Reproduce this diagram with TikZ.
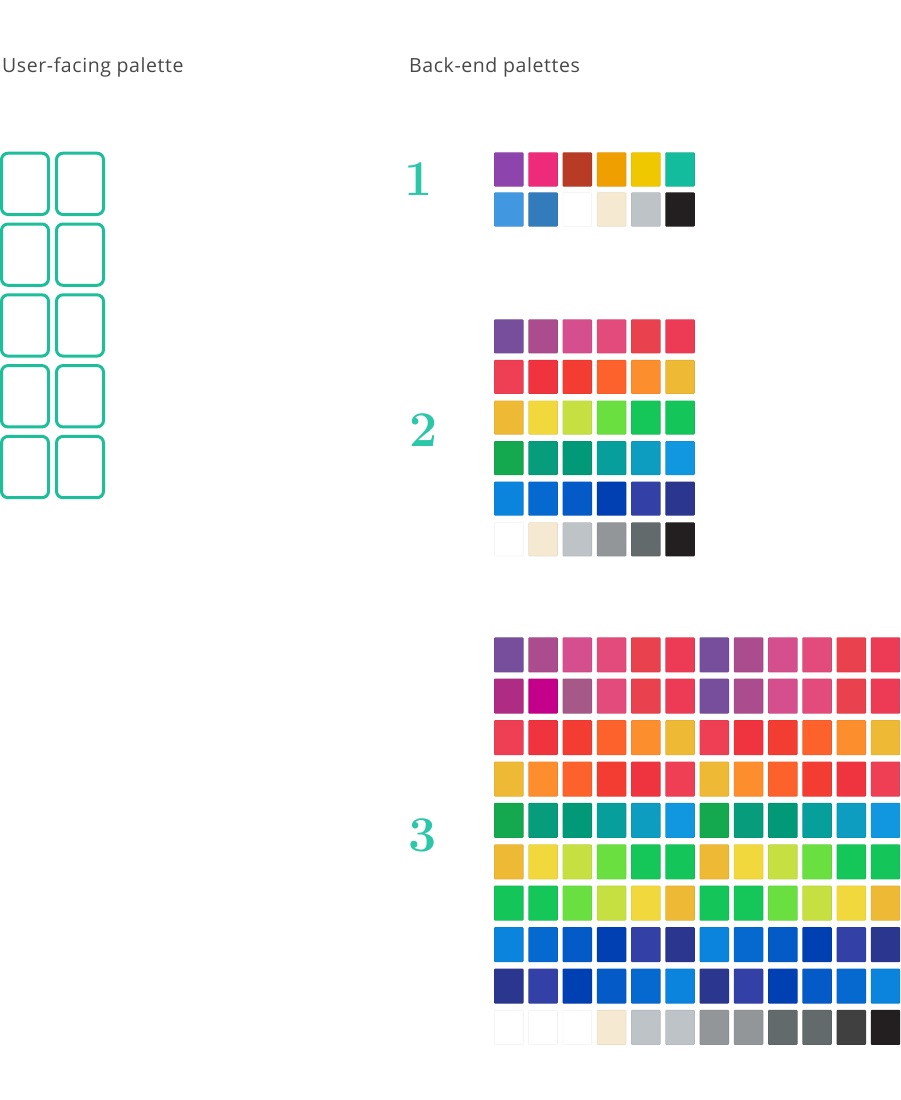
\documentclass[tikz,border=0pt]{standalone}
\usepackage{fontspec}
\newfontfamily\labelfont[LetterSpace=3]{Open Sans}
\definecolor{boxteal}{HTML}{1DBE99}
\definecolor{numteal}{HTML}{2CC6A8}
\definecolor{labelgray}{HTML}{484848}
\tikzset{
  ufbox/.style={draw=boxteal, line width=3pt, rounded corners=6.5pt},
  paltitle/.style={anchor=base west, inner sep=0pt, text=labelgray, font=\labelfont\fontsize{19.5}{21}\selectfont},
  numeral/.style={anchor=center, inner sep=0pt, text=numteal, font=\fontsize{50}{50}\selectfont\bfseries},
}
\newcommand\cellrow[4]{% x0, ytop, height, colour list
  \foreach \c [count=\i from 0] in {#4} {
    \edef\tmpdef{\noexpand\definecolor{tmpc}{HTML}{\c}}\tmpdef
    \fill[tmpc, rounded corners=1pt] (#1+\i*34.25, #2) rectangle ++(29.5, #3);
    \draw[black, opacity=0.06, line width=0.6pt, rounded corners=1pt] (#1+\i*34.25+0.3, #2+0.3) rectangle ++(28.9, #3-0.6);
  }}
\begin{document}
\begin{tikzpicture}[x=1pt, y=-1pt]
\clip (0,0) rectangle (900,1100);
\fill[white] (0,0) rectangle (900,1100);

% titles
\node[paltitle] (uftitle) at (2,72) {User-facing palette};
\node[paltitle] (betitle) at (409,72) {Back-end palettes};

% user-facing boxes
\foreach \r in {0,...,4} {
  \foreach \col in {0,1} {
    \draw[ufbox] (1.5+\col*55, 153.2+\r*70.8) rectangle ++(47, 61.3);
  }
}

% numerals
\node[numeral] (n1) at (419,179) {1};
\node[numeral] (n2) at (423.5,430) {2};
\node[numeral] (n3) at (423,835) {3};

% palette 1
\cellrow{494}{152.3}{34.3}{8E44AD,EE2A7B,B83B26,EFA000,F0C800,12BC9C}
\cellrow{494}{192.3}{34.3}{4298E0,337CBC,FFFFFF,F6E9D2,BDC3C7,231F20}

% palette 2
\cellrow{494}{319.3}{34}{774E9C,AB4C8E,D54F8E,E24B7C,E9424E,EE3B55}
\cellrow{494}{359.9}{34}{EE3F55,EF343F,F33D33,FD612C,FC8E2E,EEB934}
\cellrow{494}{400.5}{34}{EEB934,F1D93D,C6E042,6AE040,15C659,14C55A}
\cellrow{494}{441.1}{34}{14A84F,079C7C,019978,079F9C,0C9DC0,1197E0}
\cellrow{494}{481.7}{34}{0A84DC,0669D0,045BC7,0040B3,3341A7,2B378E}
\cellrow{494}{522.3}{34}{FFFFFF,F6E9D2,BDC3C7,939699,626A6C,231F20}

% palette 3
\cellrow{494}{637.3}{35}{774E9C,AB4C8E,D54F8E,E24B7C,E9424E,EE3B55,774E9C,AB4C8E,D54F8E,E24B7C,E9424E,EE3B55}
\cellrow{494}{678.7}{35}{AE2C83,C4008A,A65888,E24B7C,E9424E,EE3B55,774E9C,AB4C8E,D54F8E,E24B7C,E9424E,EE3B55}
\cellrow{494}{720.1}{35}{EE3F55,EF343F,F33D33,FD612C,FC8E2E,EEB934,EE3F55,EF343F,F33D33,FD612C,FC8E2E,EEB934}
\cellrow{494}{761.5}{35}{EEB934,FC8E2E,FD612C,F33D33,EF343F,EE3F55,EEB934,FC8E2E,FD612C,F33D33,EF343F,EE3F55}
\cellrow{494}{802.9}{35}{14A84F,079C7C,019978,079F9C,0C9DC0,1197E0,14A84F,079C7C,019978,079F9C,0C9DC0,1197E0}
\cellrow{494}{844.3}{35}{EEB934,F1D93D,C6E042,6AE040,15C659,14C55A,EEB934,F1D93D,C6E042,6AE040,15C659,14C55A}
\cellrow{494}{885.7}{35}{14C55A,15C659,6AE040,C6E042,F1D93D,EEB934,14C55A,15C659,6AE040,C6E042,F1D93D,EEB934}
\cellrow{494}{927.1}{35}{0A84DC,0669D0,045BC7,0040B3,3341A7,2B378E,0A84DC,0669D0,045BC7,0040B3,3341A7,2B378E}
\cellrow{494}{968.5}{35}{2B378E,3341A7,0040B3,045BC7,0669D0,0A84DC,2B378E,3341A7,0040B3,045BC7,0669D0,0A84DC}
\cellrow{494}{1009.9}{35}{FFFFFF,FFFFFF,FFFFFF,F6E9D2,BDC3C7,BDC3C7,939699,939699,626A6C,626A6C,404040,231F20}
\end{tikzpicture}
\end{document}
